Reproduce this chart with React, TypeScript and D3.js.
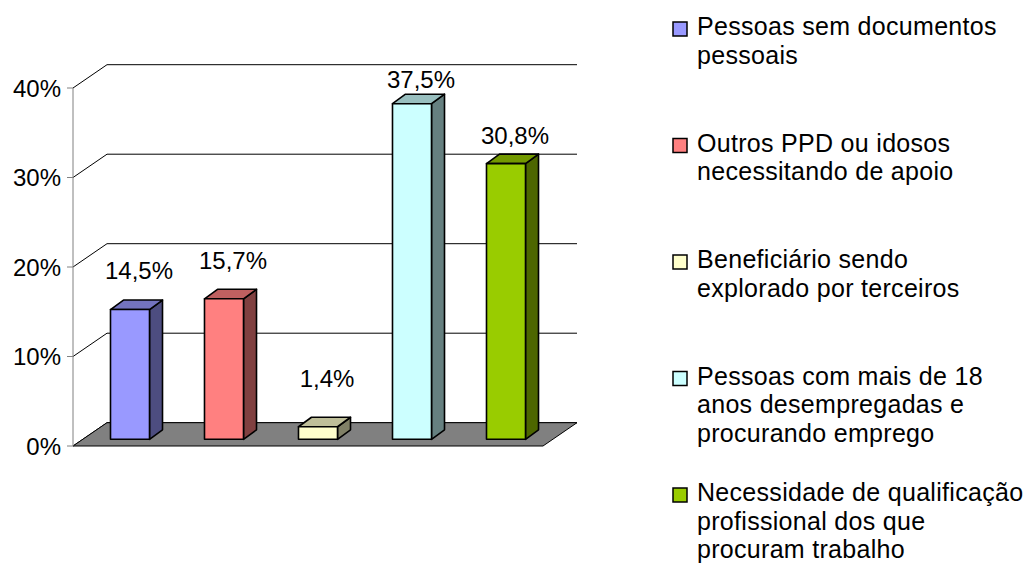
import React from "react";
import * as d3 from "d3";

const categories = [
  "Pessoas sem documentos pessoais",
  "Outros PPD ou idosos necessitando de apoio",
  "Beneficiário sendo explorado por terceiros",
  "Pessoas com mais de 18 anos desempregadas e procurando emprego",
  "Necessidade de qualificação profissional dos que procuram trabalho",
];
const values = [14.5, 15.7, 1.4, 37.5, 30.8];
const legendLines = [
  ["Pessoas sem documentos", "pessoais"],
  ["Outros PPD ou idosos", "necessitando de apoio"],
  ["Beneficiário sendo", "explorado por terceiros"],
  ["Pessoas com mais de 18", "anos desempregadas e", "procurando emprego"],
  ["Necessidade de qualificação", "profissional dos que", "procuram trabalho"],
];
const yTicks = [0, 10, 20, 30, 40];
const frontColors = ["#9999FF", "#FF8080", "#FFFFCC", "#CCFFFF", "#99CC00"];
const topColors = ["#7373BF", "#BF6060", "#BFBF99", "#99BFBF", "#739900"];
const sideColors = ["#4D4D80", "#804040", "#808066", "#668080", "#4D6600"];

const FONT = "'Liberation Sans', Arial, sans-serif";

export default function App() {
  const x0 = 73;
  const W = 470;
  const DX = 34;
  const DY = -23.3;
  const boX = 10;
  const boY = -6.7;
  const sdx = 13;
  const sdy = -9.5;

  const y = d3.scaleLinear().domain([0, 40]).range([446, 88]);
  const labelY = d3.scaleLinear().domain([0, 40]).range([398.5, 67.5]);
  const xb = d3
    .scaleBand<string>()
    .domain(categories)
    .range([x0 + boX, x0 + boX + W])
    .paddingInner(0.585)
    .paddingOuter(0.2925);
  const bw = xb.bandwidth();
  const y0 = y(0);

  const fmt = (v: number) => v.toFixed(1).replace(".", ",") + "%";

  return (
    <svg
      width={1028}
      height={568}
      style={{ position: "absolute", left: 0, top: 0, background: "#fff" }}
      fontFamily={FONT}
    >
      {yTicks.map((t) => {
        const yy = y(t);
        return (
          <path
            key={"g" + t}
            d={`M${x0},${yy} L${x0 + DX},${yy + DY} L${x0 + DX + W},${yy + DY}`}
            fill="none"
            stroke="#000"
            strokeWidth={1}
          />
        );
      })}
      <polygon
        points={`${x0},${y0} ${x0 + DX},${y0 + DY} ${x0 + DX + W},${y0 + DY} ${x0 + W},${y0}`}
        fill="#808080"
        stroke="#000"
        strokeWidth={1}
      />
      <line x1={x0} x2={x0} y1={y(40)} y2={y0} stroke="#808080" strokeWidth={1} />
      {yTicks.map((t) => (
        <g key={"t" + t}>
          <line x1={x0 - 6} x2={x0} y1={y(t)} y2={y(t)} stroke="#808080" strokeWidth={1} />
          <text x={61} y={y(t) + 8.5} textAnchor="end" fontSize={24} fill="#000">
            {t + "%"}
          </text>
        </g>
      ))}
      {categories.map((c, i) => {
        const v = values[i];
        const bx = xb(c) as number;
        const top = y(v) + boY;
        const bot = y0 + boY;
        return (
          <g key={"b" + i} stroke="#000" strokeWidth={1.6} strokeLinejoin="round">
            <polygon
              points={`${bx + bw},${top} ${bx + bw + sdx},${top + sdy} ${bx + bw + sdx},${bot + sdy} ${bx + bw},${bot}`}
              fill={sideColors[i]}
            />
            <polygon
              points={`${bx},${top} ${bx + sdx},${top + sdy} ${bx + bw + sdx},${top + sdy} ${bx + bw},${top}`}
              fill={topColors[i]}
            />
            <rect x={bx} y={top} width={bw} height={bot - top} fill={frontColors[i]} />
          </g>
        );
      })}
      {categories.map((c, i) => (
        <text
          key={"l" + i}
          x={(xb(c) as number) + bw / 2 + 9}
          y={labelY(values[i])}
          textAnchor="middle"
          fontSize={24}
          fill="#000"
        >
          {fmt(values[i])}
        </text>
      ))}
      {legendLines.map((lines, i) => {
        const base = 35 + i * 116.5;
        return (
          <g key={"lg" + i}>
            <rect
              x={673}
              y={base - 13}
              width={14}
              height={14}
              fill={frontColors[i]}
              stroke="#000"
              strokeWidth={1.5}
            />
            {lines.map((ln, j) => (
              <text
                key={j}
                x={697}
                y={base + j * 28.5}
                fontSize={25}
                letterSpacing={0.3}
                fill="#000"
              >
                {ln}
              </text>
            ))}
          </g>
        );
      })}
    </svg>
  );
}
